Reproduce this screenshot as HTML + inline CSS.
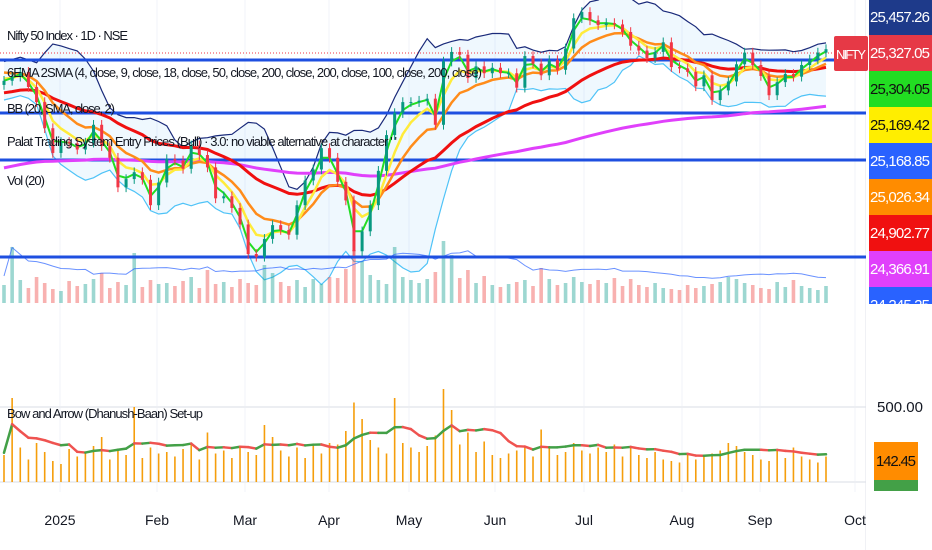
<!DOCTYPE html>
<html><head><meta charset="utf-8"><style>
html,body{margin:0;padding:0;background:#fff;}
svg{display:block;font-family:"Liberation Sans",sans-serif;}
</style></head><body>
<svg id="c" width="932" height="550" xmlns="http://www.w3.org/2000/svg">
<g id="grid"></g>
<g id="main"></g>
<g id="lower"></g>
<g id="axis"></g>
<g font-size="13" fill="#131722">
<text x="7" y="40" textLength="121">Nifty 50 Index · 1D · NSE</text>
<text x="7" y="77" textLength="475">6EMA 2SMA (4, close, 9, close, 18, close, 50, close, 200, close, 200, close, 100, close, 200, close)</text>
<text x="7" y="113" textLength="108">BB (20, SMA, close, 2)</text>
<text x="7" y="146" textLength="390">Palat Trading System Entry Prices (Bull) · 3.0: no viable alternative at character ' '</text>
<text x="7" y="185" textLength="38">Vol (20)</text>
<text x="7" y="418" textLength="196">Bow and Arrow (Dhanush-Baan) Set-up</text>
</g>
</svg>
<script>
const closes=[24640,24700,24770,24550,24330,23950,23590,23750,23730,23640,
23740,24000,23690,23520,23090,23210,23310,23200,22830,23160,23500,
23480,23360,23700,23560,23380,22930,22960,22790,22550,22120,
22080,22340,22540,22470,22400,22830,23190,23350,23660,23520,
23170,22900,22160,22450,22830,23330,23850,24170,24330,24330,
24350,24380,24000,24920,25060,25020,24680,24850,24750,24830,24750,
24750,24540,25000,24890,24720,24940,24800,25110,25550,25640,25520,
25450,25480,25460,25350,25150,25080,24970,25060,25200,24840,24820,24770,
24560,24720,24360,24500,24630,24880,25050,24870,24710,24430,
24620,24740,24700,24870,24950,25050,25100];
const volumes=[180,560,230,150,260,200,140,120,220,170,
190,240,300,150,210,180,500,160,230,190,200,
170,220,260,150,330,190,210,160,240,200,
180,380,300,210,170,230,160,240,190,260,
250,340,530,420,280,230,190,560,260,230,
200,240,310,620,480,250,330,200,270,180,160,
190,210,230,170,350,240,180,200,260,210,190,
230,200,250,170,240,180,160,200,150,140,130,180,
150,170,190,210,260,240,200,180,150,140,
210,160,230,170,150,130,170];
const monthLabels=["2025","Feb","Mar","Apr","May","Jun","Jul","Aug","Sep","Oct"];
const monthX=[60,157,245,329,409,495,584,682,760,855];
const entryPrices=[25327,24600,23930,22900];
const axisLabels=["25,457.26","25,327.05","25,304.05","25,169.42","25,168.85","25,026.34","24,902.77","24,366.91","24,245.25"];
const axisColors=["#1e3a8a","#e63946","#22dd22","#ffee00","#2962ff","#ff8c00","#f01010","#e040fb","#2962ff"];
const axisText=["#fff","#fff","#111","#111","#fff","#fff","#fff","#fff","#fff"];

const NS="http://www.w3.org/2000/svg";
function mk(tag,attrs,parent){const e=document.createElementNS(NS,tag);for(const k in attrs)e.setAttribute(k,attrs[k]);parent.appendChild(e);return e;}
const N=closes.length;
const xS=i=>4+i*(822/(N-1));
const yP=p=>10+(25670-p)*255/3710;
const grid=document.getElementById('grid'),main=document.getElementById('main'),lower=document.getElementById('lower'),axis=document.getElementById('axis');

monthX.forEach(x=>{const l=mk('line',{x1:x,x2:x,y1:0,y2:492,stroke:'#f0f3fa','stroke-width':1},grid);

});
[407,482].forEach(y=>{const l=mk('line',{x1:0,x2:866,y1:y,y2:y,stroke:'#eceef2','stroke-width':2},grid);

});
mk('line',{x1:866,x2:866,y1:0,y2:550,stroke:'#e0e3eb'},grid);

function ema(arr,p,seed){const k=2/(p+1);let v=seed;return arr.map(c=>v=c*k+v*(1-k));}
const e4=ema(closes,2,closes[0]),e9=ema(closes,4.5,closes[0]+50),e18=ema(closes,9,closes[0]+150),e50=ema(closes,25,24450),e200=ema(closes,110,23350);
const bbU=[],bbL=[];
closes.forEach((c,i)=>{const s=closes.slice(Math.max(0,i-9),i+1);const m=s.reduce((a,b)=>a+b,0)/s.length;
const sd=Math.sqrt(s.reduce((a,b)=>a+(b-m)*(b-m),0)/s.length);const w=Math.max(2*sd,280);bbU.push(m+w);bbL.push(m-w);});
const pts=a=>a.map((v,i)=>xS(i).toFixed(1)+','+yP(v).toFixed(1)).join(' ');
const band=mk('polygon',{points:pts(bbU)+' '+bbL.map((v,i)=>[i,v]).reverse().map(([i,v])=>xS(i).toFixed(1)+','+yP(v).toFixed(1)).join(' '),fill:'#2196f3','fill-opacity':0.07},main);


[[bbU,'#1a2a7a',1.2,'bb-upper'],[bbL,'#4fc3f7',1.2,'bb-lower']].forEach(([a,c,w,n])=>{const l=mk('polyline',{points:pts(a),fill:'none',stroke:c,'stroke-width':w},main);

});

volumes.forEach((v,i)=>{const up=i===0||closes[i]>=closes[i-1];const h=v*0.1;
const r=mk('rect',{x:xS(i)-1.8,y:303-h,width:3.6,height:h,fill:up?'#26a69a':'#ef5350','fill-opacity':0.45},main);

});
const vma=volumes.map((v,i)=>{const s=volumes.slice(Math.max(0,i-9),i+1);return s.reduce((a,b)=>a+b,0)/s.length;});
const vl=mk('polyline',{points:vma.map((v,i)=>xS(i).toFixed(1)+','+(303-v*0.15).toFixed(1)).join(' '),fill:'none',stroke:'#2962ff','stroke-width':1,'stroke-opacity':0.7},main);



entryPrices.forEach((p,i)=>{const y=i===0?60:[113,160,257][i-1];const l=mk('line',{x1:0,x2:866,y1:y,y2:y,stroke:'#1e4fe0','stroke-width':3},main);

});
const dl=mk('line',{x1:0,x2:834,y1:53,y2:53,stroke:'#f23645','stroke-width':1,'stroke-dasharray':'1,2'},main);



[[e200,'#e040fb',3,'sma-200'],[e50,'#f01010',3,'ema-50'],[e18,'#ff8c1a',2.5,'ema-18'],[e9,'#ffeb3b',2.5,'ema-9'],[e4,'#22dd22',2,'ema-4']].forEach(([a,c,w,n])=>{
const l=mk('polyline',{points:pts(a),fill:'none',stroke:c,'stroke-width':w},main);

});

closes.forEach((c,i)=>{const o=i?closes[i-1]:c-60;const up=c>=o;const hi=Math.max(o,c)+70,lo=Math.min(o,c)-70;const col=up?'#089981':'#f23645';
const g=mk('g',{},main);


mk('line',{x1:xS(i),x2:xS(i),y1:yP(hi),y2:yP(lo),stroke:col,'stroke-width':1},g);
mk('rect',{x:xS(i)-1.5,y:yP(Math.max(o,c)),width:3,height:Math.max(1,Math.abs(yP(o)-yP(c))),fill:col},g);});

const yL=v=>482-v*0.15;
volumes.forEach((v,i)=>{const r=mk('rect',{x:xS(i)-0.8,y:yL(v),width:1.6,height:v*0.15,fill:'#f59e0b'},lower);

});
const sm=volumes.map((v,i)=>{const s=volumes.slice(Math.max(0,i-7),i+1);return s.reduce((a,b)=>a+b,0)/s.length+15;});
for(let i=1;i<sm.length;i++){const l=mk('line',{x1:xS(i-1),y1:yL(sm[i-1]),x2:xS(i),y2:yL(sm[i]),stroke:sm[i]>=sm[i-1]?'#43a047':'#ef5350','stroke-width':2.5,'stroke-linecap':'round'},lower);

}

monthLabels.forEach((t,i)=>{const e=mk('text',{x:monthX[i],y:525,'font-size':14,fill:'#131722','text-anchor':'middle'},lower);e.textContent=t;

});

mk('rect',{x:866,y:0,width:66,height:550,fill:'#fff'},axis);
axisLabels.forEach((t,i)=>{const y=-1+36*i;const h=i===8?17:36;
const r=mk('rect',{x:869,y:y,width:63,height:h,fill:axisColors[i]},axis);


const e=mk('text',{x:900,y:y+23,'font-size':15,fill:axisText[i],'text-anchor':'middle',textLength:60},axis);e.textContent=t;

});
const nb=mk('rect',{x:834,y:36,width:34,height:35,fill:'#e63946',rx:2},axis);


const nt=mk('text',{x:851,y:59,'font-size':13,fill:'#fff','text-anchor':'middle',textLength:30},axis);nt.textContent='NIFTY';


const t5=mk('text',{x:900,y:412,'font-size':15,fill:'#131722','text-anchor':'middle'},axis);t5.textContent='500.00';


const ob=mk('rect',{x:874,y:442,width:44,height:38,fill:'#ff8c00'},axis);


const ot=mk('text',{x:896,y:466,'font-size':15,fill:'#111','text-anchor':'middle',textLength:40},axis);ot.textContent='142.45';


const gb=mk('rect',{x:874,y:480,width:44,height:11,fill:'#43a047'},axis);


</script>
</body></html>
